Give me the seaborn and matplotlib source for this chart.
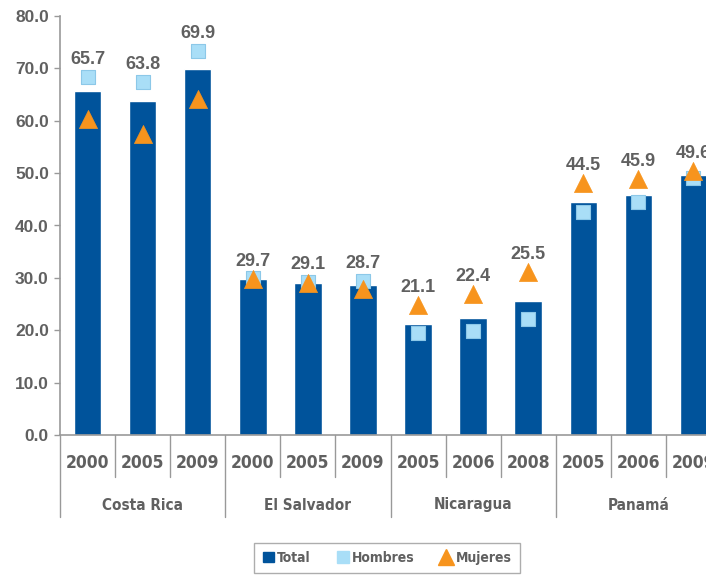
import numpy as np
import pandas as pd
import matplotlib
matplotlib.use("Agg")
import matplotlib.pyplot as plt
from matplotlib import font_manager
from matplotlib.lines import Line2D
from matplotlib.patches import Patch
import matplotlib.transforms as mtransforms
import seaborn as sns

# Data
countries = ["Costa Rica", "El Salvador", "Nicaragua", "Panamá"]
years = [["2000", "2005", "2009"],
         ["2000", "2005", "2009"],
         ["2005", "2006", "2008"],
         ["2005", "2006", "2009"]]
total = [65.7, 63.8, 69.9, 29.7, 29.1, 28.7, 21.1, 22.4, 25.5, 44.5, 45.9, 49.6]
hombres = [68.3, 67.4, 73.3, 29.9, 29.2, 29.4, 19.4, 19.9, 22.2, 42.5, 44.5, 49.0]
mujeres = [60.4, 57.5, 64.2, 29.8, 29.1, 27.9, 24.9, 27.0, 31.2, 48.2, 48.9, 50.5]

keys = [f"{c} {y}" for c, ys in zip(countries, years) for y in ys]
df = pd.DataFrame({"key": keys, "Total": total, "Hombres": hombres, "Mujeres": mujeres})
df["pos"] = np.arange(len(df))

BLUE = "#00539B"
LIGHT = "#A9DEF7"
ORANGE = "#F7941D"
GREY = "#606060"

sns.set_theme(style="white")
plt.rcParams["font.family"] = ["Liberation Sans", "DejaVu Sans"]

NARROW = font_manager.FontProperties(family="DejaVu Sans", stretch="condensed",
                                     weight="bold")

fig = plt.figure(figsize=(7.06, 5.77), dpi=100)
ax = fig.add_axes([60 / 706, 142 / 577, 661 / 706, 419 / 577])

sns.barplot(data=df, x="key", y="Total", order=keys, color=BLUE, width=0.5,
            saturation=1, ax=ax, zorder=2)
sns.scatterplot(data=df, x="pos", y="Hombres", marker="s", s=110, color=LIGHT,
                edgecolor="#8CC8E8", linewidth=0.8, ax=ax, zorder=3, legend=False)
sns.scatterplot(data=df, x="pos", y="Mujeres", marker="^", s=170, color=ORANGE,
                edgecolor=ORANGE, linewidth=0.5, ax=ax, zorder=4, legend=False)

ax.set_xlim(-0.5, len(keys) - 0.5)
ax.set_ylim(0, 80)
ax.set_yticks(np.arange(0, 81, 10))
ax.set_yticklabels([f"{v:.1f}" for v in np.arange(0, 81, 10)],
                   fontsize=12.5, fontweight="bold", color=GREY)
ax.tick_params(axis="y", length=4, width=1, color="#999999", pad=4, left=True)
ax.set_xticks([])
ax.set_xlabel("")
ax.set_ylabel("")
for side in ["top", "right"]:
    ax.spines[side].set_visible(False)
for side in ["left", "bottom"]:
    ax.spines[side].set_color("#999999")
    ax.spines[side].set_linewidth(1.2)

# Value labels above the highest mark of each category
for i, row in df.iterrows():
    top = max(row["Total"], row["Hombres"], row["Mujeres"])
    ax.annotate(f"{row['Total']:.1f}", (row["pos"], top), xytext=(0, 12.5),
                textcoords="offset points", ha="center", va="center",
                fontsize=13, fontweight="bold", color=GREY, zorder=5,
                annotation_clip=False)

# Two-level category axis
trans = mtransforms.blended_transform_factory(ax.transData, ax.transAxes)
ax_h_px = 419
yr_sep = -(477 - 435) / ax_h_px
grp_sep = -(517 - 435) / ax_h_px
yr_text = -(463 - 435) / ax_h_px
ct_text = -(505 - 435) / ax_h_px

idx = 0
for c, ys in zip(countries, years):
    start = idx
    for y in ys:
        ax.text(idx, yr_text, y, transform=trans, ha="center", va="center",
                fontproperties=NARROW, fontsize=12.5, color=GREY)
        idx += 1
    ax.text((start + idx - 1) / 2, ct_text, c, transform=trans, ha="center",
            va="center", fontproperties=NARROW, fontsize=11, color=GREY)
    for b in range(start + 1, idx):
        ax.plot([b - 0.5, b - 0.5], [0, yr_sep], transform=trans, color="#999999",
                lw=1, clip_on=False)
for b in [-0.5, 2.5, 5.5, 8.5, 11.5]:
    ax.plot([b, b], [0, grp_sep], transform=trans, color="#999999", lw=1, clip_on=False)

handles = [
    Patch(facecolor=BLUE, edgecolor=BLUE, label="Total"),
    Line2D([], [], marker="s", linestyle="none", markersize=9, markerfacecolor=LIGHT,
           markeredgecolor=LIGHT, label="Hombres"),
    Line2D([], [], marker="^", linestyle="none", markersize=11, markerfacecolor=ORANGE,
           markeredgecolor=ORANGE, label="Mujeres"),
]
leg_font = NARROW.copy()
leg_font.set_size(10)
leg = fig.legend(handles=handles, loc="center", bbox_to_anchor=(387 / 706, 19 / 577),
                 ncol=3, frameon=True, fancybox=False, handlelength=0.8,
                 handleheight=0.8, handletextpad=0.25, columnspacing=1.9,
                 borderpad=0.6, borderaxespad=0, prop=leg_font)
leg.get_frame().set_edgecolor("#999999")
leg.get_frame().set_linewidth(1)
for t in leg.get_texts():
    t.set_color(GREY)

fig.savefig("out.png", dpi=100)
